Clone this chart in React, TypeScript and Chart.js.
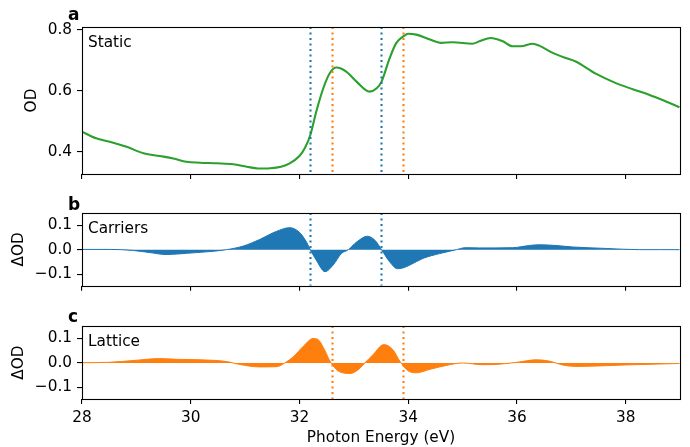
import React, { useEffect, useRef } from "react";
import { Chart, registerables } from "chart.js";

Chart.register(...registerables);

// ---------- data ----------
const staticEnergy = [
  28.0, 28.26, 28.51, 28.82, 29.13, 29.43, 29.68, 29.92, 30.17, 30.48, 30.78, 31.03, 31.24, 31.46,
  31.66, 31.82, 32.0, 32.1, 32.2, 32.31, 32.44, 32.56, 32.68, 32.86, 33.05, 33.29, 33.42, 33.51,
  33.66, 33.78, 33.91, 34.0, 34.15, 34.4, 34.6, 34.82, 35.18, 35.31, 35.52, 35.74, 35.92, 36.07,
  36.29, 36.41, 36.66, 36.9, 37.08, 37.45, 37.82, 38.13, 38.43, 38.74, 38.99,
];
const staticOD = [
  0.467, 0.445, 0.434, 0.417, 0.396, 0.387, 0.379, 0.368, 0.365, 0.363, 0.36, 0.352, 0.346, 0.347,
  0.352, 0.363, 0.387, 0.413, 0.456, 0.533, 0.61, 0.659, 0.677, 0.664, 0.631, 0.598, 0.609, 0.631,
  0.708, 0.757, 0.779, 0.788, 0.785, 0.769, 0.758, 0.76, 0.755, 0.763, 0.774, 0.763, 0.747, 0.747,
  0.755, 0.749, 0.725, 0.708, 0.697, 0.657, 0.626, 0.606, 0.588, 0.566, 0.547,
];

const carrierEnergy = [
  28.0, 28.5, 28.93, 29.25, 29.55, 29.92, 30.29, 30.66, 30.97, 31.27, 31.58, 31.82, 32.0, 32.13,
  32.2, 32.31, 32.47, 32.62, 32.77, 32.9, 33.05, 33.25, 33.39, 33.51, 33.66, 33.8, 33.9, 34.03,
  34.27, 34.58, 34.89, 35.05, 35.31, 35.92, 36.23, 36.41, 36.72, 37.02, 37.64, 38.25, 38.62, 38.99,
];
const carrierDOD = [
  0.001, 0.001, -0.003, -0.012, -0.02, -0.015, -0.009, 0.0, 0.015, 0.042, 0.075, 0.09, 0.071, 0.031,
  0.0, -0.043, -0.09, -0.063, -0.016, 0.0, 0.031, 0.055, 0.038, 0.0, -0.05, -0.078, -0.075, -0.063,
  -0.036, -0.016, 0.0, 0.008, 0.007, 0.008, 0.017, 0.02, 0.017, 0.011, 0.005, 0.0, 0.0, 0.0,
];

const latticeEnergy = [
  28.0, 28.51, 28.94, 29.43, 29.74, 30.17, 30.66, 30.9, 31.27, 31.58, 31.73, 31.89, 32.07, 32.25,
  32.34, 32.47, 32.56, 32.68, 32.74, 32.93, 33.11, 33.2, 33.35, 33.55, 33.72, 33.85, 34.0, 34.15,
  34.4, 34.7, 35.0, 35.37, 35.67, 36.04, 36.35, 36.59, 36.84, 37.08, 37.51, 38.0, 38.49, 38.99,
];
const latticeDOD = [
  0.001, 0.003, 0.01, 0.018, 0.015, 0.013, 0.006, -0.006, -0.016, -0.015, 0.0, 0.026, 0.068, 0.1,
  0.096, 0.05, 0.008, -0.027, -0.036, -0.043, -0.022, 0.0, 0.033, 0.075, 0.054, 0.006, -0.032, -0.04,
  -0.026, -0.01, 0.0, -0.007, -0.005, 0.004, 0.013, 0.008, -0.008, -0.014, -0.012, -0.008, -0.005,
  -0.002,
];

const carrierLines = [32.2, 33.5];
const latticeLines = [32.6, 33.9];

const xTicks = [28, 30, 32, 34, 36, 38];

const BLUE = "#1f77b4";
const ORANGE = "#ff7f0e";
const GREEN = "#2ca02c";
const FONT = "DejaVu Sans";
const FS = 15.3;

type VLine = { x: number; color: string };
type Label = { text: string; x: number; y: number; bold?: boolean; size?: number };

function framePlugin(vlines: VLine[], labels: Label[]) {
  return {
    id: "frameAndMarks",
    afterDatasetsDraw(chart: any) {
      const { ctx, chartArea } = chart;
      const xs = chart.scales.x;
      ctx.save();
      ctx.beginPath();
      ctx.rect(chartArea.left, chartArea.top, chartArea.right - chartArea.left, chartArea.bottom - chartArea.top);
      ctx.clip();
      for (const v of vlines) {
        const px = Math.round(xs.getPixelForValue(v.x)) + 0.5;
        ctx.strokeStyle = v.color;
        ctx.lineWidth = 2.1;
        ctx.setLineDash([2.1, 3.4]);
        ctx.beginPath();
        ctx.moveTo(px, chartArea.top);
        ctx.lineTo(px, chartArea.bottom);
        ctx.stroke();
      }
      ctx.restore();
    },
    afterDraw(chart: any) {
      const { ctx, chartArea } = chart;
      ctx.save();
      ctx.strokeStyle = "#000";
      ctx.lineWidth = 1.1;
      ctx.setLineDash([]);
      const l = Math.round(chartArea.left) + 0.5;
      const t = Math.round(chartArea.top) + 0.5;
      const r = Math.round(chartArea.right) + 0.5;
      const b = Math.round(chartArea.bottom) + 0.5;
      ctx.strokeRect(l, t, r - l, b - t);
      ctx.fillStyle = "#000";
      ctx.textBaseline = "alphabetic";
      ctx.textAlign = "left";
      for (const lb of labels) {
        ctx.font = `${lb.bold ? "bold " : ""}${lb.size ?? FS}px "${FONT}"`;
        ctx.fillText(lb.text, lb.x, lb.y);
      }
      ctx.restore();
    },
  };
}

function yTickFmt(v: any) {
  const n = Number(v);
  if (Math.abs(n) < 1e-9) return "0.0";
  return n.toFixed(1).replace("-", "\u2212");
}

type PanelProps = {
  top: number;
  height: number;
  padTop: number;
  xAxisHeight: number;
  xs: number[];
  ys: number[];
  color: string;
  filled: boolean;
  yMin: number;
  yMax: number;
  yStep: number;
  yTitle: string;
  yTitlePad: number;
  showXLabels: boolean;
  vlines: VLine[];
  labels: Label[];
};

function Panel(p: PanelProps) {
  const ref = useRef<HTMLCanvasElement | null>(null);
  useEffect(() => {
    if (!ref.current) return;
    const points = p.xs.map((x, i) => ({ x, y: p.ys[i] }));
    const chart = new Chart(ref.current, {
      type: "line",
      data: {
        datasets: [
          {
            data: points,
            borderColor: p.color,
            backgroundColor: p.color,
            borderWidth: p.filled ? 1 : 2.1,
            pointRadius: 0,
            fill: p.filled ? "origin" : false,
            cubicInterpolationMode: "monotone",
          },
        ],
      },
      options: {
        animation: false,
        responsive: false,
        devicePixelRatio: 1,
        layout: { padding: { left: 0, right: 10, top: p.padTop, bottom: 0 } },
        plugins: { legend: { display: false }, tooltip: { enabled: false } },
        scales: {
          x: {
            type: "linear",
            min: 28,
            max: 39,
            afterBuildTicks: (s: any) => {
              s.ticks = xTicks.map((v) => ({ value: v }));
            },
            border: { display: false },
            grid: {
              display: true,
              drawOnChartArea: false,
              drawTicks: true,
              tickLength: 5,
              color: "#000",
              lineWidth: 1.1,
            },
            ticks: {
              display: true,
              color: p.showXLabels ? "#000" : "rgba(0,0,0,0)",
              padding: 5,
              autoSkip: false,
              maxRotation: 0,
              font: { family: FONT, size: FS },
              callback: (v: any) => String(v),
            },
            title: {
              display: p.showXLabels,
              text: "Photon Energy (eV)",
              color: "#000",
              font: { family: FONT, size: FS },
              padding: { top: 0, bottom: 0 },
            },
            afterFit: (s: any) => {
              s.height = p.xAxisHeight;
            },
          },
          y: {
            type: "linear",
            min: p.yMin,
            max: p.yMax,
            border: { display: false },
            grid: {
              display: true,
              drawOnChartArea: false,
              drawTicks: true,
              tickLength: 5,
              color: "#000",
              lineWidth: 1.1,
            },
            ticks: {
              stepSize: p.yStep,
              includeBounds: false,
              color: "#000",
              padding: 5,
              font: { family: FONT, size: FS },
              callback: yTickFmt,
            },
            title: {
              display: true,
              text: p.yTitle,
              color: "#000",
              font: { family: FONT, size: FS },
              padding: { top: p.yTitlePad, bottom: 0 },
            },
            afterFit: (s: any) => {
              s.width = 82;
            },
          },
        },
      } as any,
      plugins: [framePlugin(p.vlines, p.labels)],
    });
    return () => chart.destroy();
  }, []);
  return (
    <canvas
      ref={ref}
      width={690}
      height={p.height}
      style={{ position: "absolute", left: 0, top: p.top, width: 690, height: p.height }}
    />
  );
}

export default function App() {
  const vA: VLine[] = [
    ...carrierLines.map((x) => ({ x, color: BLUE })),
    ...latticeLines.map((x) => ({ x, color: ORANGE })),
  ];
  const vB: VLine[] = carrierLines.map((x) => ({ x, color: BLUE }));
  const vC: VLine[] = latticeLines.map((x) => ({ x, color: ORANGE }));
  return (
    <div style={{ position: "fixed", left: 0, top: 0, width: 690, height: 447, background: "#fff" }}>
      <Panel
        top={0}
        height={190}
        padTop={27}
        xAxisHeight={16}
        xs={staticEnergy}
        ys={staticOD}
        color={GREEN}
        filled={false}
        yMin={0.328}
        yMax={0.81}
        yStep={0.2}
        yTitle="OD"
        yTitlePad={23}
        showXLabels={false}
        vlines={vA}
        labels={[
          { text: "a", x: 68, y: 20, bold: true, size: 17 },
          { text: "Static", x: 88, y: 47 },
        ]}
      />
      <Panel
        top={190}
        height={110}
        padTop={23}
        xAxisHeight={13}
        xs={carrierEnergy}
        ys={carrierDOD}
        color={BLUE}
        filled={true}
        yMin={-0.148}
        yMax={0.15}
        yStep={0.1}
        yTitle={"\u0394OD"}
        yTitlePad={10}
        showXLabels={false}
        vlines={vB}
        labels={[
          { text: "b", x: 68, y: 20, bold: true, size: 17 },
          { text: "Carriers", x: 88, y: 43 },
        ]}
      />
      <Panel
        top={300}
        height={147}
        padTop={26}
        xAxisHeight={48}
        xs={latticeEnergy}
        ys={latticeDOD}
        color={ORANGE}
        filled={true}
        yMin={-0.147}
        yMax={0.151}
        yStep={0.1}
        yTitle={"\u0394OD"}
        yTitlePad={10}
        showXLabels={true}
        vlines={vC}
        labels={[
          { text: "c", x: 68, y: 22, bold: true, size: 17 },
          { text: "Lattice", x: 88, y: 46 },
        ]}
      />
    </div>
  );
}
